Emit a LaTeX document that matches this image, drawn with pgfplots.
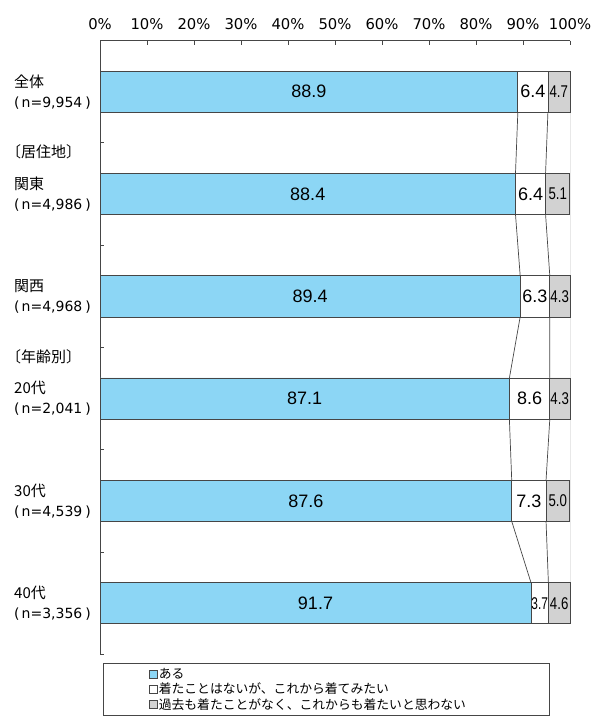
\documentclass[border=0pt]{standalone}
\usepackage{pgfplots}
\pgfplotsset{compat=1.18}
\usepackage{fontspec}
\setmainfont{DejaVu Sans}
\newfontfamily\lib{Liberation Sans}
\newfontfamily\cjk{Noto Sans CJK JP}
\definecolor{barblue}{RGB}{140,214,245}
\definecolor{bargray}{RGB}{210,210,210}
\definecolor{edge}{RGB}{70,70,70}
\pgfplotsset{
  common/.style={at={(100bp,-40.5bp)}, anchor=north west, scale only axis,
    width=470bp, height=613.8bp, xmin=0, xmax=100, ymin=-0.5, ymax=5.5, y dir=reverse},
  legsq/.style={legend image code/.code={\draw[##1, line width=0.5bp] (0bp,-4bp) rectangle (8bp,4bp);}},
}
\newcommand{\vbig}[3]{\node[font=\lib\fontsize{18bp}{18bp}\selectfont, inner sep=0] at (axis cs:#1,#2) {#3};}
\newcommand{\vsm}[3]{\node[font=\lib\fontsize{17bp}{17bp}\selectfont, inner sep=0] at (axis cs:#1,#2) {\scalebox{0.78}[1]{#3}};}
\newcommand{\vcat}[3]{\node[anchor=west, align=left, inner sep=0, font=\fontsize{14bp}{20bp}\selectfont] at (axis cs:0,#1) [xshift=-86bp] {{\cjk\fontsize{15bp}{20bp}\selectfont #2}\\(\kern2bp n=#3\kern3bp)};}
\begin{document}
\begin{tikzpicture}
\useasboundingbox (0,0) rectangle (595bp,-719bp);
% connector lines
\begin{axis}[common, hide axis]
\addplot[edge, line width=0.7bp] coordinates {(88.9,0.2)(88.4,0.8)(88.4,1.2)(89.4,1.8)(89.4,2.2)(87.1,2.8)(87.1,3.2)(87.6,3.8)(87.6,4.2)(91.7,4.8)};
\addplot[edge, line width=0.7bp] coordinates {(95.3,0.2)(94.8,0.8)(94.8,1.2)(95.7,1.8)(95.7,2.2)(95.7,2.8)(95.7,3.2)(94.9,3.8)(94.9,4.2)(95.4,4.8)};
\addplot[edge, line width=0.7bp] coordinates {(100,0.2)(100,0.8)(100,1.2)(100,1.8)(100,2.2)(100,2.8)(100,3.2)(100,3.8)(100,4.2)(100,4.8)};
\end{axis}
\begin{axis}[common, xbar stacked, bar width=41.3bp,
  axis x line=top, axis y line=left, axis line style={-, edge, line width=0.8bp},
  tick align=inside, major tick length=4bp, tick style={edge, line width=0.8bp},
  xtick={0,10,...,100}, xticklabels={0\%,10\%,20\%,30\%,40\%,50\%,60\%,70\%,80\%,90\%,100\%},
  xticklabel style={font=\fontsize{14.8bp}{15bp}\selectfont, yshift=7bp},
  ytick={-0.5,0.5,...,5.5}, yticklabels={},
  clip=false,
  legend style={at={(axis description cs:0,0)}, anchor=north west, xshift=3bp, yshift=-8.7bp,
    draw=edge, line width=0.6bp, inner xsep=46bp, inner ysep=4bp,
    font=\cjk\fontsize{12.8bp}{13bp}\selectfont, cells={anchor=west}, row sep=1bp,
    nodes={inner sep=1bp, text width=343bp, align=left}},
]
\addplot[fill=barblue, draw=edge, line width=0.8bp, legsq] coordinates {(88.9,0)(88.4,1)(89.4,2)(87.1,3)(87.6,4)(91.7,5)};
\addplot[fill=white, draw=edge, line width=0.8bp, legsq] coordinates {(6.4,0)(6.4,1)(6.3,2)(8.6,3)(7.3,4)(3.7,5)};
\addplot[fill=bargray, draw=edge, line width=0.8bp, legsq] coordinates {(4.7,0)(5.1,1)(4.3,2)(4.3,3)(5.0,4)(4.6,5)};
\legend{ある,着たことはないが、これから着てみたい,過去も着たことがなく、これからも着たいと思わない}
\vcat{0}{全体}{9,954}
\vcat{1}{関東}{4,986}
\vcat{2}{関西}{4,968}
\vcat{3}{20代}{2,041}
\vcat{4}{30代}{4,539}
\vcat{5}{40代}{3,356}
\end{axis}
% value labels on top
\begin{axis}[common, hide axis, clip=false]
\vbig{44.45}{0}{88.9}\vbig{92.1}{0}{6.4}\vsm{97.6}{0}{4.7}
\vbig{44.2}{1}{88.4}\vbig{91.6}{1}{6.4}\vsm{97.4}{1}{5.1}
\vbig{44.7}{2}{89.4}\vbig{92.55}{2}{6.3}\vsm{97.8}{2}{4.3}
\vbig{43.55}{3}{87.1}\vbig{91.4}{3}{8.6}\vsm{97.8}{3}{4.3}
\vbig{43.8}{4}{87.6}\vbig{91.25}{4}{7.3}\vsm{97.4}{4}{5.0}
\vbig{45.85}{5}{91.7}\node[font=\lib\fontsize{17bp}{17bp}\selectfont, inner sep=0] at (axis cs:93.55,5) {\scalebox{0.7}[1]{3.7}};\vsm{97.7}{5}{4.6}
\end{axis}
\node[anchor=west, inner sep=0, font=\cjk\fontsize{15bp}{15bp}\selectfont] at (6bp,-152bp) {〔居住地〕};
\node[anchor=west, inner sep=0, font=\cjk\fontsize{15bp}{15bp}\selectfont] at (6bp,-357bp) {〔年齢別〕};
\end{tikzpicture}
\end{document}
